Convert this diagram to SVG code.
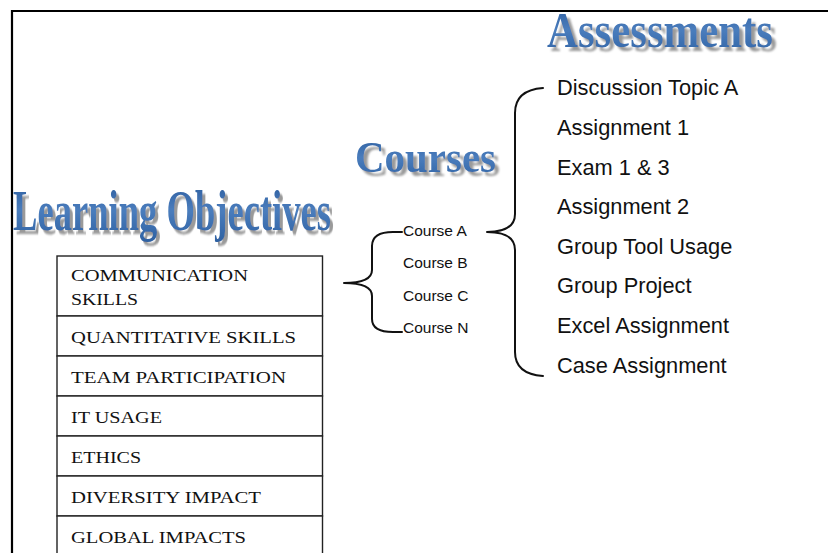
<svg xmlns="http://www.w3.org/2000/svg" width="828" height="553" viewBox="0 0 828 553">
<defs>
<linearGradient id="blueGrad" x1="0" y1="0" x2="0" y2="1">
<stop offset="0" stop-color="#2a5a9a"/>
<stop offset="0.5" stop-color="#4a7dbd"/>
<stop offset="1" stop-color="#2e61a2"/>
</linearGradient>
<filter id="dropShadow" x="-5%" y="-20%" width="115%" height="150%">
<feGaussianBlur in="SourceAlpha" stdDeviation="1.2" result="blur"/>
<feOffset in="blur" dx="4" dy="4" result="off"/>
<feFlood flood-color="#9a9a9a"/>
<feComposite in2="off" operator="in" result="shadow"/>
<feMerge>
<feMergeNode in="shadow"/>
<feMergeNode in="SourceGraphic"/>
</feMerge>
</filter>
<style>
.frame{fill:none;stroke:#000;stroke-width:2.2}
.head{font-family:"Liberation Serif","Times New Roman",serif;font-weight:bold;fill:url(#blueGrad);filter:url(#dropShadow)}
.cell{fill:#fff;stroke:#222;stroke-width:1.4}
.obj{font-family:"Liberation Serif","Times New Roman",serif;font-size:16px;fill:#111}
.course{font-family:"Liberation Sans",Arial,sans-serif;font-size:15.5px;fill:#111}
.assess{font-family:"Liberation Sans",Arial,sans-serif;font-size:21.8px;fill:#111}
.brace{fill:none;stroke:#111;stroke-width:2;stroke-linecap:round;stroke-linejoin:round}
</style>
</defs>
<rect x="0" y="0" width="828" height="553" fill="#fff"/>
<path class="frame" d="M12 553 L12 11 L828 11"/>

<g id="heading-assessments">
<text class="head" x="547" y="47" font-size="51" textLength="226" lengthAdjust="spacingAndGlyphs">Assessments</text>
</g>
<g id="heading-courses">
<text class="head" x="355" y="172" font-size="44" textLength="141" lengthAdjust="spacingAndGlyphs">Courses</text>
</g>
<g id="heading-learning-objectives" transform="translate(13,230) scale(0.642,1)">
<text class="head" x="0" y="0" font-size="57">Learning Objectives</text>
</g>

<g id="objectives">
<g id="obj-communication">
<rect class="cell" x="57" y="256" width="265.5" height="60"/>
<text class="obj" x="71" y="281" textLength="177" lengthAdjust="spacingAndGlyphs">COMMUNICATION</text>
<text class="obj" x="71" y="305" textLength="67" lengthAdjust="spacingAndGlyphs">SKILLS</text>
</g>
<g id="obj-quantitative">
<rect class="cell" x="57" y="316" width="265.5" height="40"/>
<text class="obj" x="71" y="343" textLength="225" lengthAdjust="spacingAndGlyphs">QUANTITATIVE SKILLS</text>
</g>
<g id="obj-team">
<rect class="cell" x="57" y="356" width="265.5" height="40"/>
<text class="obj" x="71" y="383" textLength="215" lengthAdjust="spacingAndGlyphs">TEAM PARTICIPATION</text>
</g>
<g id="obj-it">
<rect class="cell" x="57" y="396" width="265.5" height="40"/>
<text class="obj" x="71" y="423" textLength="91" lengthAdjust="spacingAndGlyphs">IT USAGE</text>
</g>
<g id="obj-ethics">
<rect class="cell" x="57" y="436" width="265.5" height="40"/>
<text class="obj" x="71" y="463" textLength="70" lengthAdjust="spacingAndGlyphs">ETHICS</text>
</g>
<g id="obj-diversity">
<rect class="cell" x="57" y="476" width="265.5" height="40"/>
<text class="obj" x="71" y="503" textLength="190" lengthAdjust="spacingAndGlyphs">DIVERSITY IMPACT</text>
</g>
<g id="obj-global">
<rect class="cell" x="57" y="516" width="265.5" height="45"/>
<text class="obj" x="71" y="543" textLength="175" lengthAdjust="spacingAndGlyphs">GLOBAL IMPACTS</text>
</g>
</g>

<g id="courses">
<g id="course-a"><text class="course" x="403" y="236">Course A</text></g>
<g id="course-b"><text class="course" x="403" y="268">Course B</text></g>
<g id="course-c"><text class="course" x="403" y="301">Course C</text></g>
<g id="course-n"><text class="course" x="403" y="333">Course N</text></g>
</g>

<g id="assessments">
<g id="as-discussion"><text class="assess" x="557" y="95">Discussion Topic A</text></g>
<g id="as-assignment1"><text class="assess" x="557" y="135">Assignment 1</text></g>
<g id="as-exam"><text class="assess" x="557" y="175">Exam 1 &amp; 3</text></g>
<g id="as-assignment2"><text class="assess" x="557" y="214">Assignment 2</text></g>
<g id="as-grouptool"><text class="assess" x="557" y="254">Group Tool Usage</text></g>
<g id="as-groupproject"><text class="assess" x="557" y="293">Group Project</text></g>
<g id="as-excel"><text class="assess" x="557" y="333">Excel Assignment</text></g>
<g id="as-case"><text class="assess" x="557" y="373">Case Assignment</text></g>
</g>

<g id="connectors">
<path class="brace" d="M402 232 L393 232 Q372 232 372 246 L372 270 Q372 283 344 283 Q372 283 372 296 L372 319 Q372 332 393 332 L402 332"/>
<path class="brace" d="M543 88 Q515 90 515 113 L515 214 Q515 232 487 232 Q515 232 515 250 L515 352 Q515 374 543 376"/>
</g>
</svg>
